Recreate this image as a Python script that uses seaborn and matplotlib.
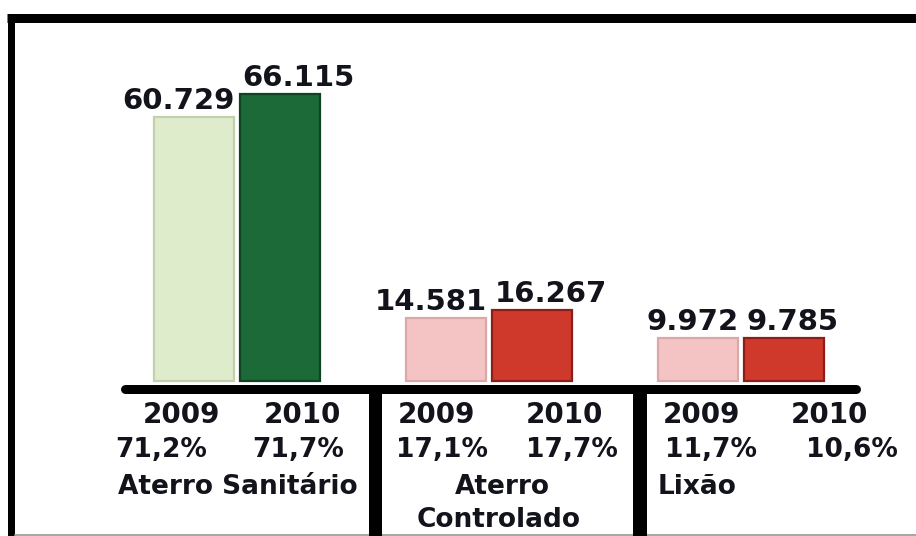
import matplotlib
matplotlib.use("Agg")
import matplotlib.pyplot as plt
from matplotlib.lines import Line2D
import pandas as pd
import seaborn as sns

# Destination of urban solid waste (t/day), 2009 vs 2010
categories = ["Aterro Sanitário", "Aterro Controlado", "Lixão"]
years = ["2009", "2010"]
tons_2009 = [60729, 14581, 9972]
tons_2010 = [66115, 16267, 9785]
share_2009 = ["71,2%", "17,1%", "11,7%"]
share_2010 = ["71,7%", "17,7%", "10,6%"]

light_colors = ["#dfeccb", "#f4c3c3", "#f4c3c3"]
dark_colors = ["#1b6a37", "#cf392b", "#cf392b"]
light_edges = ["#c2d0ad", "#dba8a8", "#dba8a8"]
dark_edges = ["#0f4322", "#8b1f18", "#8b1f18"]

df = pd.DataFrame({
    "destino": categories * 2,
    "ano": [years[0]] * 3 + [years[1]] * 3,
    "toneladas": tons_2009 + tons_2010,
})

W, H = 916, 536
sns.set_theme(style="white")
plt.rcParams["font.family"] = ["DejaVu Sans"]
fig = plt.figure(figsize=(W / 100, H / 100), dpi=100)
ax = fig.add_axes([0, 0, 1, 1])

sns.barplot(data=df, x="destino", y="toneladas", hue="ano",
            order=categories, hue_order=years, width=0.68, gap=0.06,
            palette=["#cccccc", "#333333"], legend=False, ax=ax)

# per-bar colours: lighter shade for 2009, stronger for 2010
for yi, cont in enumerate(ax.containers):
    for ci, bar in enumerate(cont):
        if yi == 0:
            bar.set_facecolor(light_colors[ci])
            bar.set_edgecolor(light_edges[ci])
        else:
            bar.set_facecolor(dark_colors[ci])
            bar.set_edgecolor(dark_edges[ci])
        bar.set_linewidth(1.6)

px_per_unit = 252.0
ax.set_xlim(-237 / px_per_unit, (W - 237) / px_per_unit)
scale = 4.345 / 1000.0  # pixels per ton
ax.set_ylim(-(H - 381) / scale, 381 / scale)
ax.axis("off")

text_color = "#13131c"

def fmt(v):
    return f"{v:,}".replace(",", ".")

# value labels: 2009 right-aligned to the bar, 2010 left-aligned
for yi, cont in enumerate(ax.containers):
    vals = tons_2009 if yi == 0 else tons_2010
    for bar, v in zip(cont, vals):
        top = bar.get_y() + bar.get_height()
        if yi == 0:
            x, ha = bar.get_x() + bar.get_width(), "right"
        else:
            x, ha = bar.get_x() + 3 / px_per_unit, "left"
        ax.annotate(fmt(v), (x, top), xytext=(0, 8), textcoords="offset pixels",
                    ha=ha, va="baseline", fontsize=21, fontweight="bold",
                    color=text_color)

def fpos(x, y):
    return x / W, 1 - y / H

def ftext(x, y, s, ha="center", size=19):
    fig.text(*fpos(x, y), s, ha=ha, va="center", fontsize=size,
             fontweight="bold", color=text_color)

# year and share rows under each group
year_x = [(181, 302), (436, 564), (701, 829)]
share_x = [(161, 298), (442, 572), (711, 852)]
for i in range(3):
    ftext(year_x[i][0], 415, years[0], size=20)
    ftext(year_x[i][1], 415, years[1], size=20)
    ftext(share_x[i][0], 450, share_2009[i])
    ftext(share_x[i][1], 450, share_2010[i])

ftext(358, 487, "Aterro Sanitário", ha="right")
ftext(502, 487, "Aterro")
ftext(499, 520, "Controlado")
ftext(658, 487, "Lixão", ha="left")

def fline(x0, y0, x1, y1, lw_px, color="black", cap="butt"):
    (fx0, fy0), (fx1, fy1) = fpos(x0, y0), fpos(x1, y1)
    fig.add_artist(Line2D([fx0, fx1], [fy0, fy1], transform=fig.transFigure,
                          lw=lw_px * 0.72, color=color, solid_capstyle=cap))

# frame, baseline and column dividers
fline(7, 17.5, W, 17.5, 9)
fline(10.5, 17.5, 10.5, H, 7)
fline(14, 534.5, W, 534.5, 1.5, color="#8a8a8a")
fline(125, 389, 856, 389, 9, cap="round")
fline(375, 389, 375, H, 13)
fline(640, 389, 640, H, 14)

fig.savefig("out.png", dpi=100, facecolor="white")
